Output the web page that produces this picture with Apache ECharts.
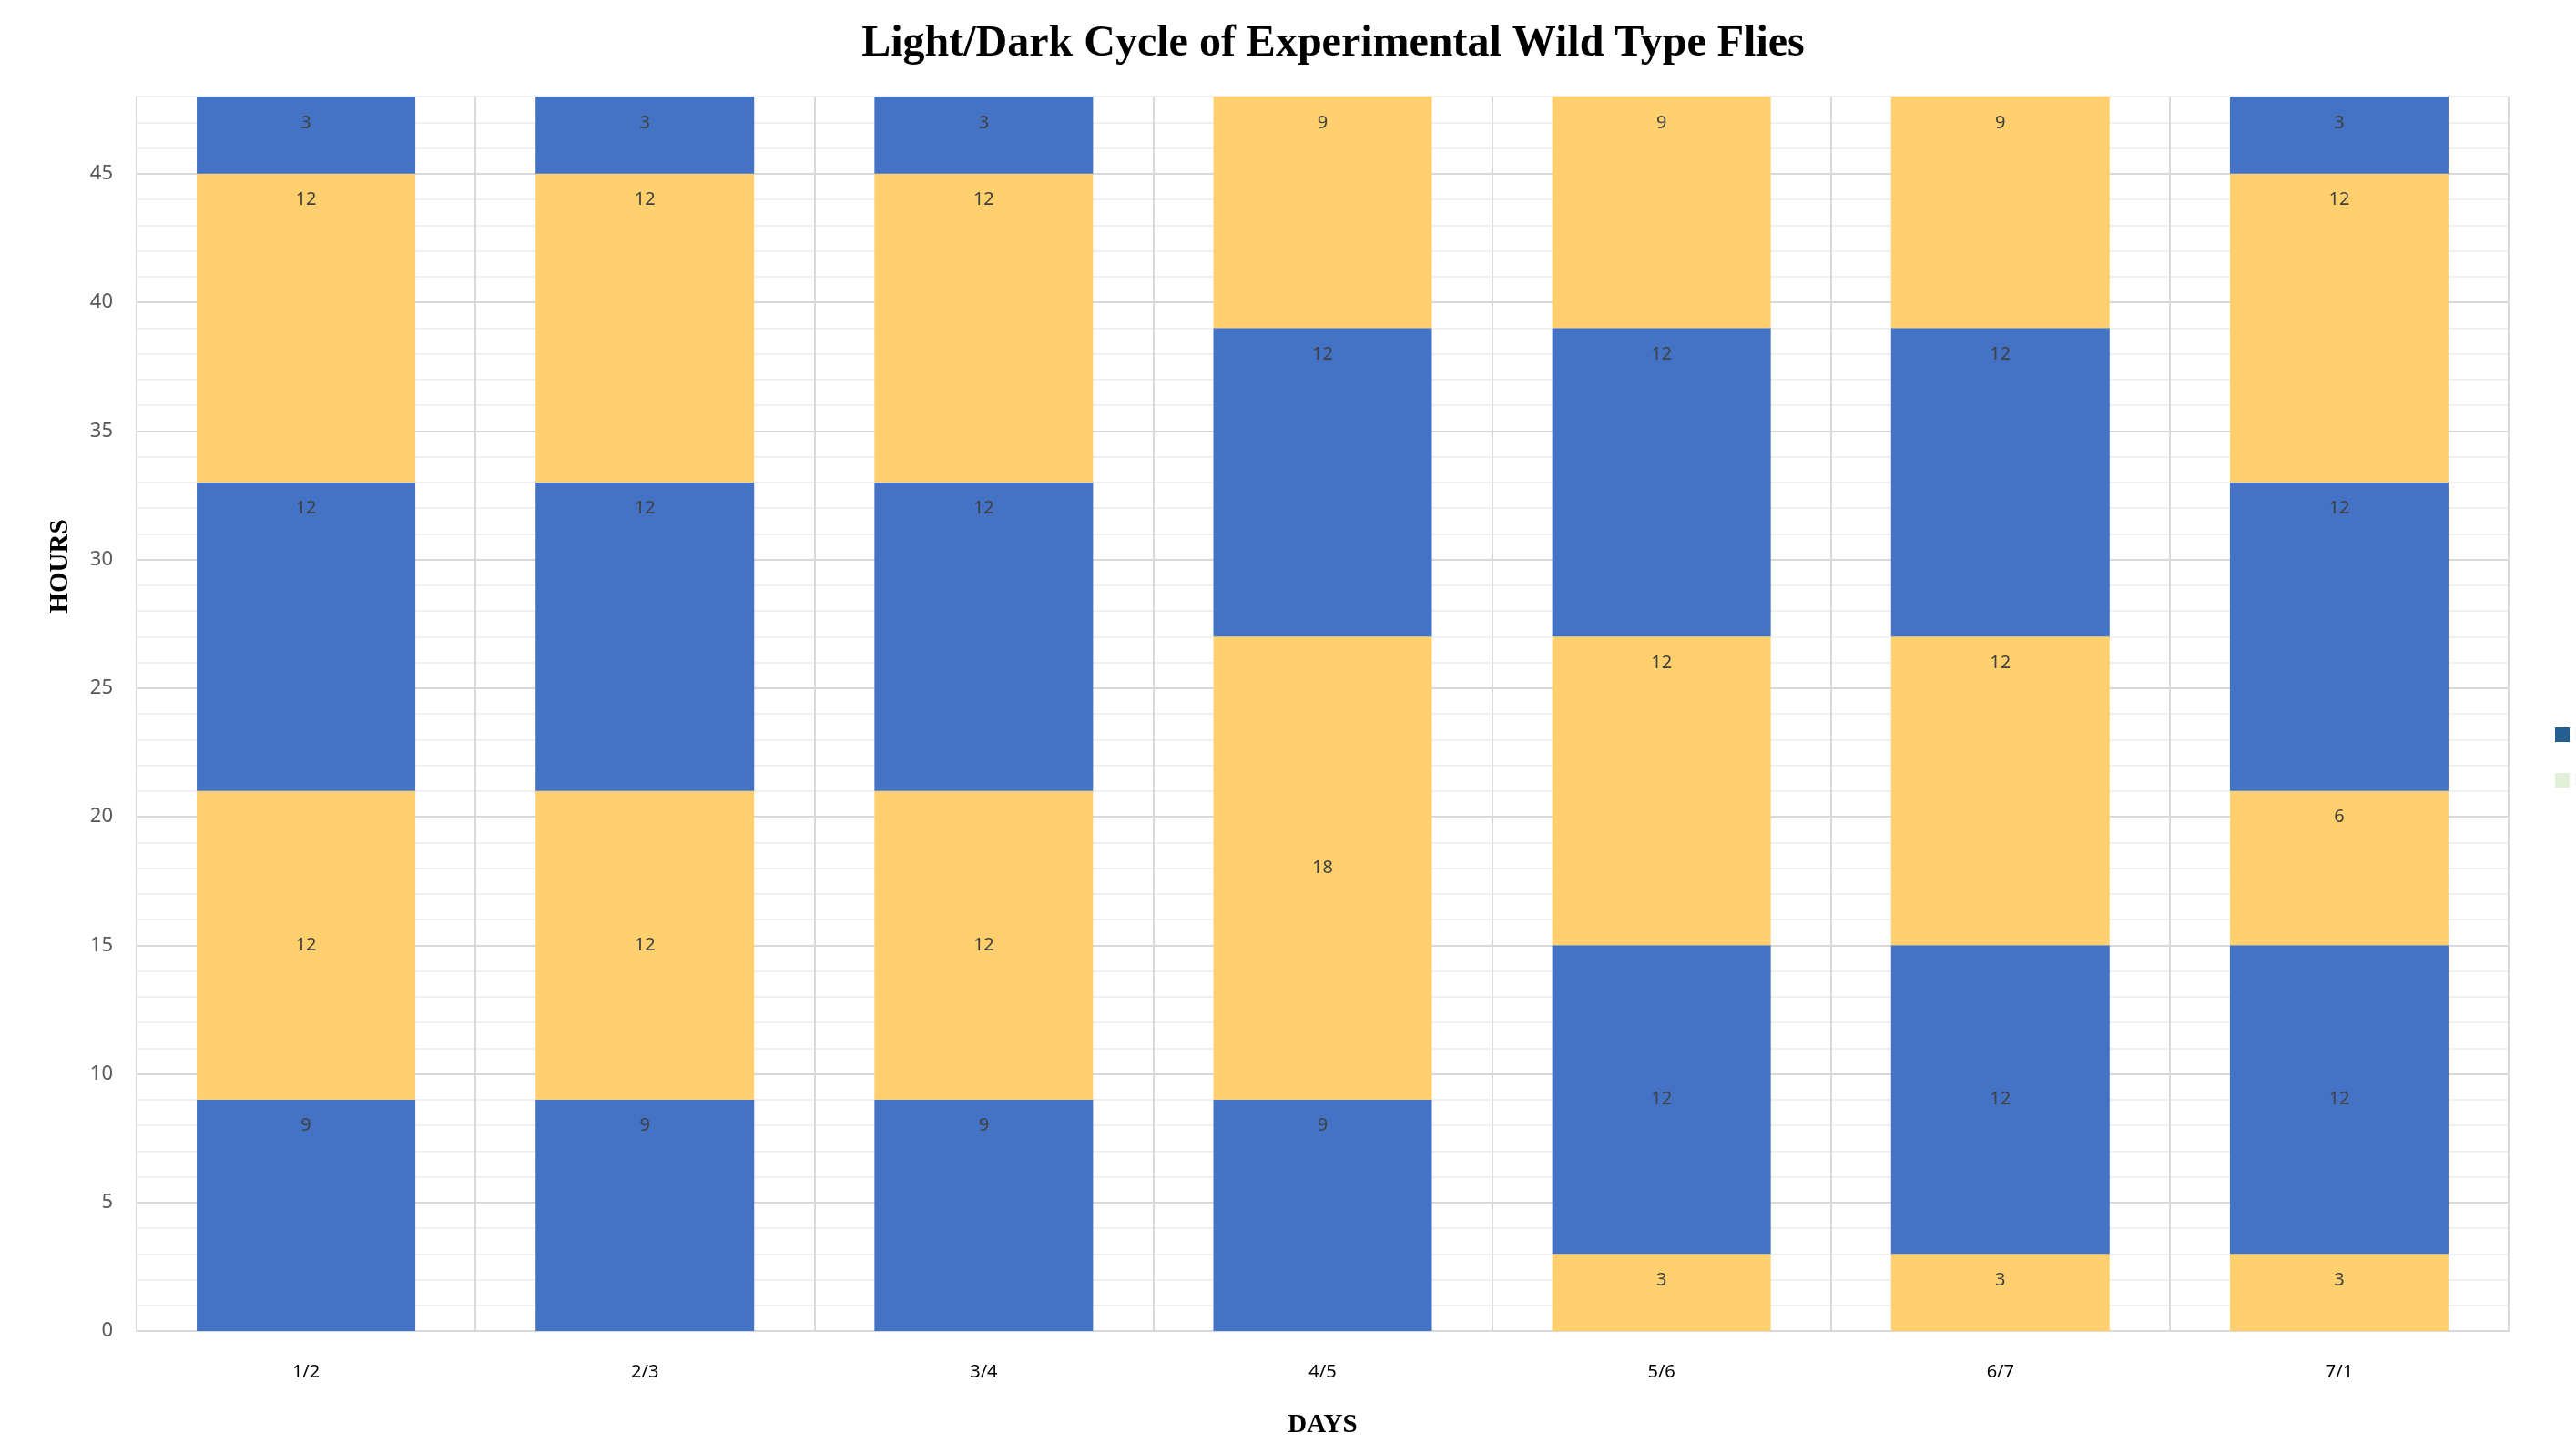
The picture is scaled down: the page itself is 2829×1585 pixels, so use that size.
<!DOCTYPE html>
<html>
<head>
<meta charset="utf-8">
<script src="https://cdn.jsdelivr.net/npm/echarts@6/dist/echarts.min.js"></script>
<style>html,body{margin:0;padding:0;background:#fff}#c{width:2829px;height:1585px}</style>
</head>
<body>
<div id="c"></div>
<script>
// ---- data ----
const categories = ['1/2', '2/3', '3/4', '4/5', '5/6', '6/7', '7/1'];
// segments from bottom to top, alternating light / dark periods (hours)
const light0 = [0, 0, 0, 0, 3, 3, 3];
const dark1  = [9, 9, 9, 9, 12, 12, 12];
const light1 = [12, 12, 12, 18, 12, 12, 6];
const dark2  = [12, 12, 12, 12, 12, 12, 12];
const light2 = [12, 12, 12, 9, 9, 9, 12];
const dark3  = [3, 3, 3, 0, 0, 0, 3];
const legendNames = ['Dark', 'Light'];

const BLUE = '#4472c4', GOLD = '#ffd06d';
const segs = [
  { name: 'Light', values: light0, color: GOLD },
  { name: 'Dark',  values: dark1,  color: BLUE },
  { name: 'Light', values: light1, color: GOLD },
  { name: 'Dark',  values: dark2,  color: BLUE },
  { name: 'Light', values: light2, color: GOLD },
  { name: 'Dark',  values: dark3,  color: BLUE }
];

// the second non-empty segment of each bar carries a centred label
const centred = categories.map((c, j) => {
  let n = 0;
  for (let s = 0; s < segs.length; s++) {
    if (segs[s].values[j] > 0) { n++; if (n === 2) return s; }
  }
  return -1;
});

const series = segs.map((s, si) => ({
  type: 'bar',
  name: s.name,
  stack: 'day',
  barWidth: '64.5%',
  itemStyle: { color: s.color },
  label: {
    show: true,
    position: 'insideTop',
    distance: 19,
    color: '#404040',
    fontFamily: 'Noto Sans',
    fontSize: 20,
    formatter: p => (p.value ? String(p.value) : '')
  },
  data: s.values.map((v, j) => centred[j] === si
    ? { value: v, label: { position: 'inside' } }
    : v)
}));

const chart = echarts.init(document.getElementById('c'), null, { renderer: 'canvas' });
chart.setOption({
  animation: false,
  backgroundColor: '#ffffff',
  grid: { left: 150, right: 74, top: 106, bottom: 120, containLabel: false },
  legend: {
    orient: 'vertical',
    left: 2801,
    top: 792,
    itemWidth: 16,
    itemHeight: 16,
    itemGap: 30,
    icon: 'rect',
    textStyle: { color: '#595959', fontSize: 20, fontFamily: 'Noto Sans', lineHeight: 16 },
    data: [
      { name: legendNames[0], itemStyle: { color: '#255e91' } },
      { name: legendNames[1], itemStyle: { color: '#e2efd9' } }
    ]
  },
  xAxis: {
    type: 'category',
    data: categories,
    name: 'DAYS',
    nameLocation: 'middle',
    nameGap: 89,
    nameTextStyle: { fontFamily: 'Liberation Serif', fontWeight: 'bold', fontSize: 29, color: '#000' },
    axisLine: { show: true, lineStyle: { color: '#d9d9d9', width: 2 } },
    axisTick: { show: false },
    axisLabel: { color: '#000', fontFamily: 'Noto Sans', fontSize: 20, margin: 35 },
    splitLine: { show: true, interval: 0, lineStyle: { color: '#d9d9d9', width: 2 } }
  },
  yAxis: {
    type: 'value',
    min: 0,
    max: 48,
    interval: 1,
    axisLine: { show: true, lineStyle: { color: '#d9d9d9', width: 2 } },
    axisTick: { show: false },
    axisLabel: {
      color: '#595959', fontFamily: 'Noto Sans', fontSize: 22, margin: 26,
      formatter: v => (v % 5 === 0 ? String(v) : '')
    },
    splitLine: {
      show: true,
      lineStyle: { color: ['#d9d9d9', '#f0f0f0', '#f0f0f0', '#f0f0f0', '#f0f0f0'], width: 2 }
    }
  },
  graphic: [
    {
      type: 'text', x: 1464, y: 49,
      style: {
        text: 'Light/Dark Cycle of Experimental Wild Type Flies',
        font: 'bold 48px "Liberation Serif"', fill: '#000',
        textAlign: 'center', textVerticalAlign: 'middle'
      }
    },
    {
      type: 'text', x: 67, y: 622, rotation: Math.PI / 2,
      style: {
        text: 'HOURS', font: 'bold 29px "Liberation Serif"', fill: '#000',
        textAlign: 'center', textVerticalAlign: 'middle'
      }
    }
  ],
  series: series
});
</script>
</body>
</html>
